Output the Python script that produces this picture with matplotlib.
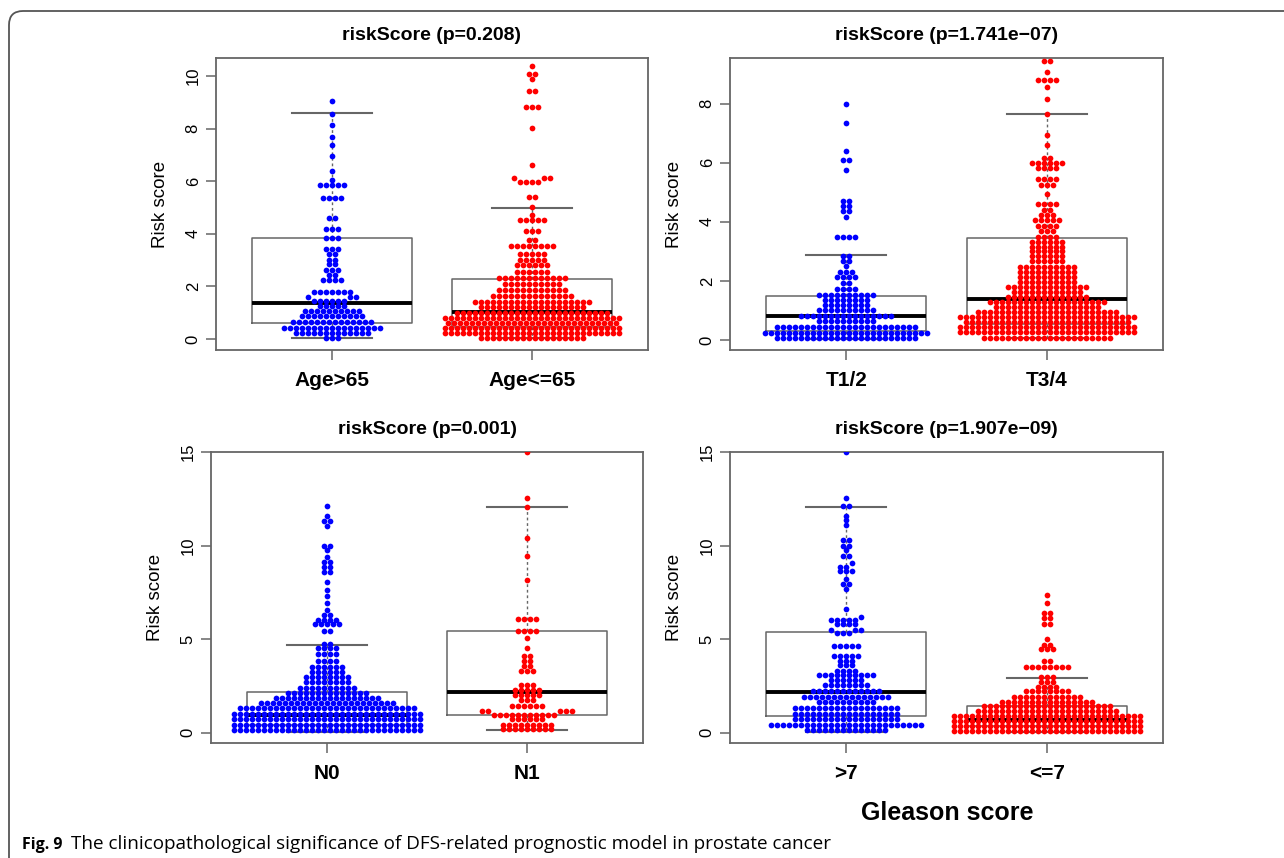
import numpy as np
import matplotlib
matplotlib.use("Agg")
import matplotlib.pyplot as plt
from matplotlib.patches import FancyBboxPatch

plt.rcParams['font.family'] = ['Liberation Sans', 'DejaVu Sans']

# ---------------- data ----------------
# each group: value levels and number of points sitting at that level
age_gt65_vals = [9.05, 8.57, 8.15, 7.68, 7.38, 6.97, 6.38, 6.03, 5.85, 5.35, 4.60, 4.18, 3.83, 3.42,
                 3.22, 3.02, 2.84, 2.63, 2.45, 2.25, 1.80, 1.60, 1.45, 1.26, 1.06, 0.86, 0.64, 0.42,
                 0.23, 0.04]
age_gt65_counts = [1, 1, 1, 1, 1, 1, 1, 1, 5, 4, 2, 3, 3, 3, 2, 2, 2, 3, 2, 4, 7, 3, 6, 5, 10, 11, 14,
                   17, 13, 3]

age_le65_vals = [10.38, 10.08, 9.87, 9.42, 8.82, 8.02, 6.63, 6.12, 5.98, 5.40, 5.00, 4.72, 4.52, 4.10,
                 3.75, 3.52, 3.22, 3.02, 2.80, 2.55, 2.30, 2.08, 1.86, 1.65, 1.42, 1.20, 1.00, 0.78,
                 0.59, 0.40, 0.21, 0.03]
age_le65_counts = [1, 2, 1, 2, 3, 1, 1, 3, 4, 2, 1, 1, 5, 3, 2, 8, 5, 5, 6, 6, 12, 10, 12, 14, 20, 18,
                   26, 30, 29, 30, 30, 18]

t12_vals = [8.00, 7.35, 6.38, 6.10, 5.75, 4.70, 4.54, 4.38, 4.15, 3.50, 2.85, 2.67, 2.50, 2.30, 2.12,
            1.92, 1.72, 1.52, 1.35, 1.18, 1.00, 0.82, 0.64, 0.44, 0.24, 0.05]
t12_counts = [1, 1, 1, 2, 1, 2, 2, 2, 1, 4, 2, 2, 1, 3, 4, 2, 4, 10, 8, 8, 10, 16, 10, 24, 28, 24]

t34_vals = [9.45, 9.05, 8.80, 8.55, 8.15, 7.65, 6.95, 6.60, 6.17, 6.00, 5.83, 5.45, 5.25, 4.95, 4.60,
            4.40, 4.22, 4.05, 3.85, 3.68, 3.50, 3.33, 3.16, 3.00, 2.83, 2.66, 2.48, 2.30, 2.13, 1.96,
            1.80, 1.63, 1.46, 1.29, 1.12, 0.95, 0.78, 0.61, 0.44, 0.27, 0.08]
t34_counts = [2, 1, 4, 1, 1, 1, 1, 1, 2, 6, 4, 4, 3, 1, 4, 2, 3, 5, 4, 3, 4, 6, 6, 6, 6, 6, 10, 10, 10,
              10, 14, 12, 14, 20, 18, 24, 30, 28, 30, 30, 22]

n0_vals = [12.10, 11.60, 11.30, 11.05, 10.00, 9.78, 9.40, 9.10, 8.85, 8.60, 8.05, 7.60, 7.30, 6.90,
           6.55, 6.30, 6.02, 5.78, 5.45, 4.75, 4.50, 4.22, 3.85, 3.50, 3.22, 2.95, 2.68, 2.40, 2.12,
           1.85, 1.58, 1.30, 1.00, 0.70, 0.42, 0.13]
n0_counts = [1, 1, 2, 1, 2, 1, 1, 2, 2, 2, 1, 1, 1, 1, 1, 2, 4, 5, 2, 2, 4, 4, 4, 6, 6, 8, 8, 10, 14,
             18, 23, 30, 32, 32, 32, 32]

n1_vals = [15.00, 12.55, 12.05, 10.40, 9.45, 8.15, 6.05, 5.42, 5.05, 4.50, 4.10, 3.85, 3.58, 3.30,
           2.55, 2.28, 2.02, 1.75, 1.40, 1.15, 0.95, 0.70, 0.42, 0.18]
n1_counts = [1, 1, 1, 1, 1, 1, 4, 4, 1, 1, 2, 2, 2, 3, 3, 5, 5, 3, 6, 5, 11, 6, 9, 9]

gs_gt7_vals = [15.00, 12.55, 12.10, 11.60, 11.35, 11.10, 10.30, 10.00, 9.78, 9.42, 9.05, 8.85, 8.62,
               8.20, 7.95, 7.65, 6.60, 6.20, 6.02, 5.80, 5.50, 5.30, 4.60, 4.10, 3.85, 3.60, 3.30,
               3.08, 2.80, 2.52, 2.22, 1.92, 1.62, 1.32, 1.00, 0.72, 0.42, 0.13]
gs_gt7_counts = [1, 1, 2, 1, 1, 1, 2, 2, 1, 2, 1, 2, 3, 1, 2, 1, 1, 1, 5, 4, 3, 3, 5, 5, 3, 3, 4, 10,
                 6, 8, 12, 15, 10, 18, 18, 18, 26, 14]

gs_le7_vals = [7.35, 6.95, 6.38, 6.10, 5.80, 5.00, 4.70, 4.45, 3.85, 3.50, 2.95, 2.70, 2.45, 2.20,
               1.92, 1.65, 1.42, 1.15, 0.90, 0.62, 0.36, 0.10]
gs_le7_counts = [1, 1, 2, 2, 2, 1, 2, 3, 2, 8, 3, 3, 4, 8, 12, 16, 22, 24, 32, 32, 32, 32]

# box statistics: (lower whisker, Q1, median, Q3, upper whisker)
age_gt65_box = (0.04, 0.60, 1.37, 3.83, 8.59)
age_le65_box = (0.02, 0.45, 1.02, 2.27, 4.99)
t12_box = (0.02, 0.30, 0.82, 1.49, 2.86)
t34_box = (0.08, 0.55, 1.37, 3.45, 7.65)
n0_box = (0.02, 0.40, 0.94, 2.16, 4.70)
n1_box = (0.16, 0.96, 2.17, 5.42, 12.04)
gs_gt7_box = (0.04, 0.87, 2.16, 5.38, 12.04)
gs_le7_box = (0.02, 0.35, 0.66, 1.41, 2.92)

titles = ['riskScore (p=0.208)', 'riskScore (p=1.741e\u221207)',
          'riskScore (p=0.001)', 'riskScore (p=1.907e\u221209)']
xlabels = [['Age>65', 'Age<=65'], ['T1/2', 'T3/4'], ['N0', 'N1'], ['>7', '<=7']]
yticks = [[0, 2, 4, 6, 8, 10], [0, 2, 4, 6, 8], [0, 5, 10, 15], [0, 5, 10, 15]]
group_data = [[(age_gt65_vals, age_gt65_counts), (age_le65_vals, age_le65_counts)],
              [(t12_vals, t12_counts), (t34_vals, t34_counts)],
              [(n0_vals, n0_counts), (n1_vals, n1_counts)],
              [(gs_gt7_vals, gs_gt7_counts), (gs_le7_vals, gs_le7_counts)]]
box_data = [[age_gt65_box, age_le65_box], [t12_box, t34_box],
            [n0_box, n1_box], [gs_gt7_box, gs_le7_box]]

# ---------------- layout ----------------
W, H, DPI = 1284, 858, 100
# axes rectangles in pixels: left, top, right, bottom
rects = [(216, 58, 648, 350), (730, 58, 1163, 350), (211, 452, 643, 743), (730, 452, 1163, 743)]
ylims = [(-0.42, 10.68), (-0.34, 9.54), (-0.56, 15.0), (-0.56, 15.0)]
XLIM = (0.42, 2.58)
colors = ['#0000FF', '#FF0000']
FRAME = '#666666'
DOT_DX = 6.0      # horizontal spacing of dots, px
ROW_PX = 4.0      # values closer than this (px) share a row


def center_offsets(values, px_per_unit, row_px, dx):
    """beeswarm 'center' layout: bin values into rows, centre each row (offsets in px)."""
    values = np.asarray(values, float)
    order = np.argsort(values, kind='stable')
    out = np.zeros(len(values))
    i = 0
    n = len(order)
    while i < n:
        start = values[order[i]]
        j = i
        while j < n and (values[order[j]] - start) * px_per_unit < row_px:
            j += 1
        members = order[i:j]
        m = len(members)
        slots = (np.arange(m) - (m - 1) / 2.0) * dx
        slots = slots[np.argsort(np.abs(slots) + 1e-9 * np.sign(slots), kind='stable')]
        out[members] = slots
        i = j
    return out


fig = plt.figure(figsize=(W / DPI, H / DPI), dpi=DPI)
fig.patch.set_facecolor('white')

for k in range(4):
    l, t, r, b = rects[k]
    ax = fig.add_axes([l / W, 1 - b / H, (r - l) / W, (b - t) / H])
    ax.set_xlim(*XLIM)
    ax.set_ylim(*ylims[k])
    ppu = (b - t) / (ylims[k][1] - ylims[k][0])
    x_per_px = (XLIM[1] - XLIM[0]) / (r - l)

    stats = []
    for (lo, q1, med, q3, hi) in box_data[k]:
        stats.append(dict(whislo=lo, q1=q1, med=med, q3=q3, whishi=hi, fliers=[]))
    ax.bxp(stats, positions=[1, 2], widths=0.8, capwidths=0.4, showfliers=False,
           boxprops=dict(color=FRAME, linewidth=1.1),
           medianprops=dict(color='black', linewidth=2.8, solid_capstyle='butt'),
           whiskerprops=dict(color=FRAME, linewidth=1.0, linestyle=(0, (2, 2))),
           capprops=dict(color=FRAME, linewidth=1.5), zorder=2)

    for g, (vals, cnts) in enumerate(group_data[k]):
        v = np.repeat(np.asarray(vals, float), np.asarray(cnts, int))
        off = center_offsets(v, ppu, ROW_PX, DOT_DX)
        ax.scatter(g + 1 + off * x_per_px, v, s=17, color=colors[g], linewidths=0, zorder=3)

    ax.set_xticks([1, 2])
    ax.set_xticklabels(xlabels[k], fontsize=15, fontweight='bold')
    ax.set_yticks(yticks[k])
    ax.set_yticklabels([str(v) for v in yticks[k]], fontsize=12, rotation=90, va='center')
    ax.tick_params(axis='both', direction='out', length=7, width=1.1, color=FRAME)
    ax.tick_params(axis='x', pad=8)
    ax.tick_params(axis='y', pad=4)
    for s in ax.spines.values():
        s.set_color(FRAME)
        s.set_linewidth(1.3)
    ax.set_ylabel('Risk score', fontsize=13.5, labelpad=12)
    ax.set_title(titles[k], fontsize=14, fontweight='bold', pad=13)

# Gleason score label
fig.text(947 / W, 1 - 813 / H, 'Gleason score', fontsize=18, fontweight='bold',
         ha='center', va='center')

# caption
renderer = fig.canvas.get_renderer()
cap_y = 1 - 849 / H
t1 = fig.text(22 / W, cap_y, 'Fig. 9', fontsize=11.5, fontweight='bold',
              family=['Open Sans', 'DejaVu Sans'], ha='left', va='baseline')
bb = t1.get_window_extent(renderer=renderer)
fig.text((bb.x1 + 9) / W, cap_y,
         'The clinicopathological significance of DFS-related prognostic model in prostate cancer',
         fontsize=13.6, family=['Open Sans', 'DejaVu Sans'], ha='left', va='baseline')

# rounded frame around the figure (partly outside the picture)
frame = FancyBboxPatch((9, -40), 1320, (H - 11) + 40,
                       boxstyle='round,pad=0,rounding_size=14',
                       transform=None, facecolor='none', edgecolor='#555555',
                       linewidth=1.3, clip_on=False)
fig.add_artist(frame)

fig.savefig('out.png', dpi=DPI)
